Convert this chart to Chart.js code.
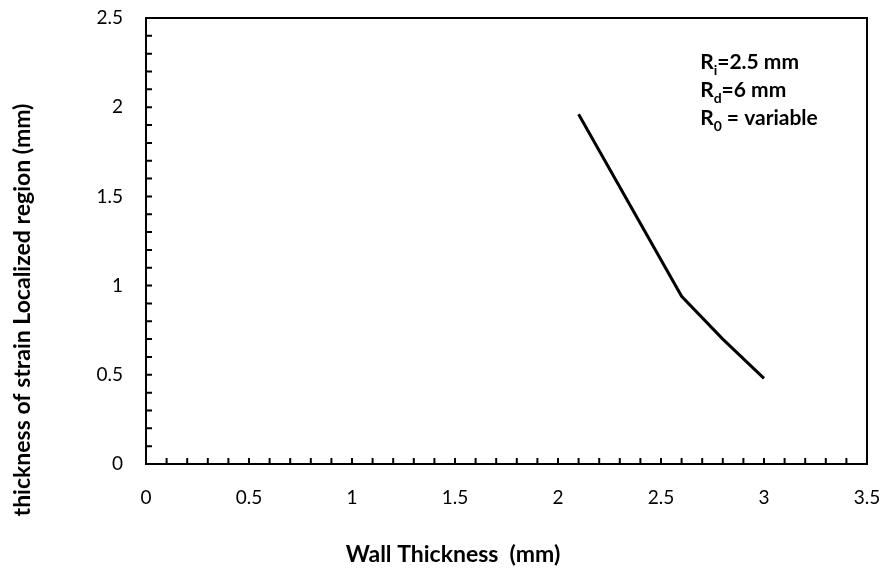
<!DOCTYPE html>
<html>
<head>
<meta charset="utf-8">
<script src="https://cdn.jsdelivr.net/npm/chart.js@4"></script>
<style>
  html, body { margin: 0; padding: 0; background: #fff; }
  #wrap { width: 883px; height: 569px; }
</style>
</head>
<body>
<div id="wrap"><canvas id="myChart" width="883" height="569"></canvas></div>
<script>
// wall thickness (mm) vs thickness of strain localized region (mm)
var wallThickness = [2.1, 2.6, 2.8, 3.0];
var localizedThickness = [1.96, 0.94, 0.70, 0.48];
var xTickLabels = ['0', '0.5', '1', '1.5', '2', '2.5', '3', '3.5'];
var yTickLabels = ['0', '0.5', '1', '1.5', '2', '2.5'];
var noteLines = [['R', 'i', '=2.5 mm'], ['R', 'd', '=6 mm'], ['R', '0', ' = variable']];

var FONT = 'Lato, "Open Sans", sans-serif';

function isMajor(v) {
    return Math.abs(v * 2 - Math.round(v * 2)) < 1e-6;
}
function tickText(v, list) {
    if (!isMajor(v)) return '';
    var idx = Math.round(v * 2);
    return list[idx] !== undefined ? list[idx] : '';
}

var framePlugin = {
    id: 'frame',
    afterDraw: function (chart) {
        var ctx = chart.ctx;
        var a = chart.chartArea;
        var xs = chart.scales.x, ys = chart.scales.y;
        ctx.save();
        ctx.strokeStyle = '#000';
        ctx.lineWidth = 2;
        ctx.strokeRect(a.left, a.top, a.right - a.left, a.bottom - a.top);
        // inward tick marks
        ctx.beginPath();
        xs.ticks.forEach(function (t) {
            var px = xs.getPixelForValue(t.value);
            ctx.moveTo(px, a.bottom);
            ctx.lineTo(px, a.bottom - 6);
        });
        ys.ticks.forEach(function (t) {
            var py = ys.getPixelForValue(t.value);
            ctx.moveTo(a.left, py);
            ctx.lineTo(a.left + 6, py);
        });
        ctx.stroke();

        // axis titles
        ctx.fillStyle = '#000';
        ctx.font = 'bold 23px ' + FONT;
        ctx.textAlign = 'center';
        ctx.textBaseline = 'middle';
        ctx.fillText('Wall Thickness  (mm)', 453, 555);
        ctx.save();
        ctx.translate(23, 310);
        ctx.rotate(-Math.PI / 2);
        ctx.fillText('thickness of strain Localized region (mm)', 0, 0);
        ctx.restore();

        // annotation
        var x0 = xs.getPixelForValue(2.69);
        var y0 = ys.getPixelForValue(2.253);
        ctx.textAlign = 'left';
        ctx.textBaseline = 'middle';
        noteLines.forEach(function (parts, i) {
            var y = y0 + i * 28;
            var x = x0;
            ctx.font = 'bold 21px ' + FONT;
            ctx.fillText(parts[0], x, y);
            x += ctx.measureText(parts[0]).width;
            ctx.font = 'bold 14px ' + FONT;
            ctx.fillText(parts[1], x, y + 8);
            x += ctx.measureText(parts[1]).width;
            ctx.font = 'bold 21px ' + FONT;
            ctx.fillText(parts[2], x, y);
        });
        ctx.restore();
    }
};

var points = wallThickness.map(function (v, i) {
    return { x: v, y: localizedThickness[i] };
});

var ctx = document.getElementById('myChart').getContext('2d');
var myChart = new Chart(ctx, {
    type: 'scatter',
    data: {
        datasets: [{
            data: points,
            showLine: true,
            borderColor: '#000',
            borderWidth: 3,
            pointRadius: 0,
            tension: 0,
            fill: false
        }]
    },
    options: {
        responsive: false,
        animation: false,
        layout: { padding: { top: 18, right: 16, left: 0, bottom: 0 } },
        plugins: {
            legend: { display: false },
            tooltip: { enabled: false }
        },
        scales: {
            x: {
                type: 'linear',
                min: 0,
                max: 3.5,
                grid: { drawOnChartArea: false, drawTicks: true, tickLength: 22, color: 'rgba(0,0,0,0)' },
                border: { display: false },
                ticks: {
                    stepSize: 0.1,
                    autoSkip: false,
                    maxRotation: 0,
                    padding: 0,
                    color: '#000',
                    font: { family: FONT, size: 19 },
                    callback: function (v) { return tickText(v, xTickLabels); }
                },
                afterFit: function (scale) { scale.height = 105; }
            },
            y: {
                type: 'linear',
                min: 0,
                max: 2.5,
                grid: { drawOnChartArea: false, drawTicks: true, tickLength: 23, color: 'rgba(0,0,0,0)' },
                border: { display: false },
                ticks: {
                    stepSize: 0.1,
                    autoSkip: false,
                    padding: 0,
                    color: '#000',
                    font: { family: FONT, size: 19 },
                    callback: function (v) { return tickText(v, yTickLabels); }
                },
                afterFit: function (scale) { scale.width = 146; }
            }
        }
    },
    plugins: [framePlugin]
});
</script>
</body>
</html>
